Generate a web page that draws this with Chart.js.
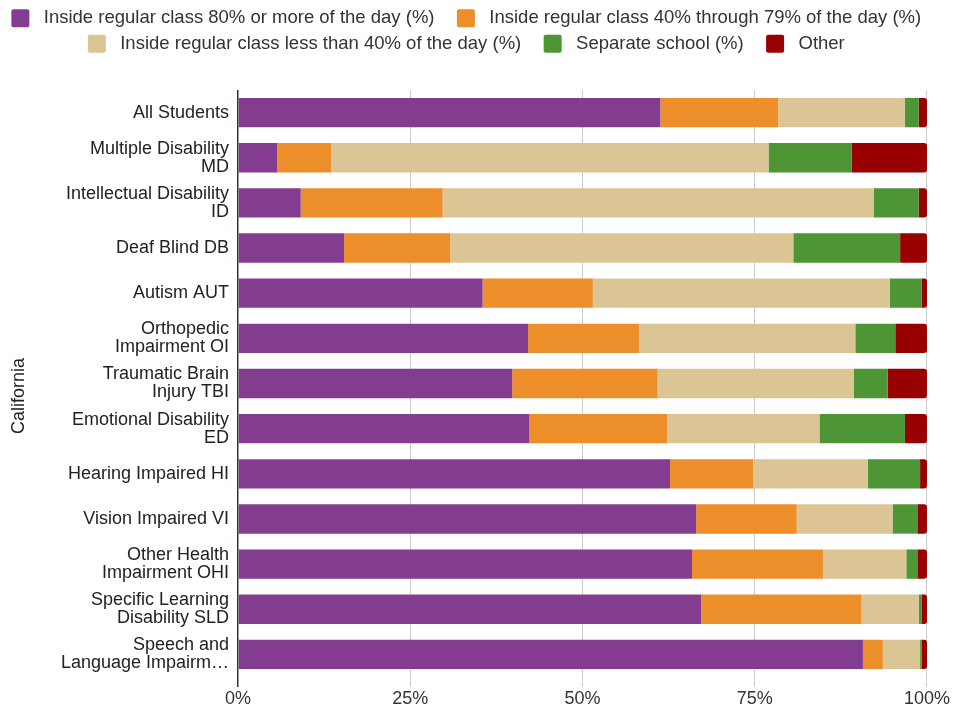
<!DOCTYPE html>
<html>
<head>
<meta charset="utf-8">
<script src="https://cdn.jsdelivr.net/npm/chart.js@4/dist/chart.umd.min.js"></script>
<style>
  html, body { margin: 0; padding: 0; background: #fff; }
  #wrap { width: 953px; height: 711px; }
</style>
</head>
<body>
<div id="wrap"><canvas id="chart"></canvas></div>
<script>
// ===== data =====
const categories = [
  'All Students',
  ['Multiple Disability', 'MD'],
  ['Intellectual Disability', 'ID'],
  'Deaf Blind DB',
  'Autism AUT',
  ['Orthopedic', 'Impairment OI'],
  ['Traumatic Brain', 'Injury TBI'],
  ['Emotional Disability', 'ED'],
  'Hearing Impaired HI',
  'Vision Impaired VI',
  ['Other Health', 'Impairment OHI'],
  ['Specific Learning', 'Disability SLD'],
  ['Speech and', 'Language Impairm\u2026']
];

const seriesNames = [
  'Inside regular class 80% or more of the day (%)',
  'Inside regular class 40% through 79% of the day (%)',
  'Inside regular class less than 40% of the day (%)',
  'Separate school (%)',
  'Other'
];

const inside80 = [61.3, 5.7, 9.1, 15.4, 35.5, 42.1, 39.8, 42.3, 62.7, 66.5, 65.9, 67.2, 90.7];
const inside40to79 = [17.1, 7.8, 20.6, 15.4, 16.0, 16.1, 21.1, 20.0, 12.1, 14.6, 19.0, 23.3, 2.9];
const insideLess40 = [18.4, 63.5, 62.6, 49.8, 43.1, 31.4, 28.5, 22.1, 16.6, 13.9, 12.1, 8.3, 5.4];
const separateSchool = [2.0, 12.1, 6.5, 15.5, 4.6, 5.8, 4.9, 12.4, 7.6, 3.6, 1.6, 0.4, 0.2];
const other = [1.2, 10.9, 1.2, 3.9, 0.8, 4.6, 5.7, 3.2, 1.0, 1.4, 1.4, 0.8, 0.8];

const xTicks = [0, 25, 50, 75, 100];
const axisTitle = 'California';

const colors = ['#843c91', '#ec8f2b', '#dcc595', '#4d9535', '#990000'];

// ===== chart =====
const FONT = "'Liberation Sans', Arial, sans-serif";
Chart.defaults.font.family = FONT;
Chart.defaults.color = '#222';

const allSeries = [inside80, inside40to79, insideLess40, separateSchool, other];

// espacio extra bajo la leyenda
const legendMargin = {
  id: 'legendMargin',
  beforeInit(chart) {
    const fit = chart.legend.fit;
    chart.legend.fit = function () {
      fit.bind(chart.legend)();
      this.height += 27;
    };
  }
};

new Chart(document.getElementById('chart'), {
  type: 'bar',
  data: {
    labels: categories,
    datasets: allSeries.map((vals, i) => ({
      label: seriesNames[i],
      data: vals,
      backgroundColor: colors[i],
      borderWidth: 0,
      borderRadius: 3,
      barPercentage: 0.65,
      categoryPercentage: 1
    }))
  },
  options: {
    indexAxis: 'y',
    responsive: true,
    maintainAspectRatio: false,
    animation: false,
    layout: { padding: { top: 2, right: 5, bottom: 0, left: 0 } },
    plugins: {
      tooltip: { enabled: false },
      legend: {
        position: 'top',
        labels: {
          font: { size: 18.5 },
          color: '#333',
          boxWidth: 18,
          boxHeight: 18,
          useBorderRadius: true,
          borderRadius: 2,
          padding: 7,
          generateLabels(chart) {
            const items = Chart.defaults.plugins.legend.labels.generateLabels(chart);
            items.forEach(it => { it.text = ' ' + it.text + '   '; });
            return items;
          }
        }
      }
    },
    scales: {
      x: {
        stacked: true,
        min: 0,
        max: 100,
        afterBuildTicks(scale) {
          scale.ticks = xTicks.map(v => ({ value: v }));
        },
        ticks: {
          font: { size: 18, lineHeight: 1 },
          color: '#333',
          padding: 3,
          callback: v => v + '%'
        },
        grid: {
          color: ctx => ctx.index === 0 ? '#333' : '#ccc',
          lineWidth: ctx => ctx.index === 0 ? 1.5 : 1,
          tickLength: 10
        },
        border: { display: false }
      },
      y: {
        stacked: true,
        afterFit(scale) { scale.width = 238; },
        ticks: { font: { size: 18, lineHeight: 1 }, color: '#222', padding: 1 },
        grid: { display: false },
        border: { display: false },
        title: {
          display: true,
          text: axisTitle + '     ',
          font: { size: 18 },
          color: '#222',
          padding: { top: 8, bottom: 0 }
        }
      }
    }
  },
  plugins: [legendMargin]
});
</script>
</body>
</html>
